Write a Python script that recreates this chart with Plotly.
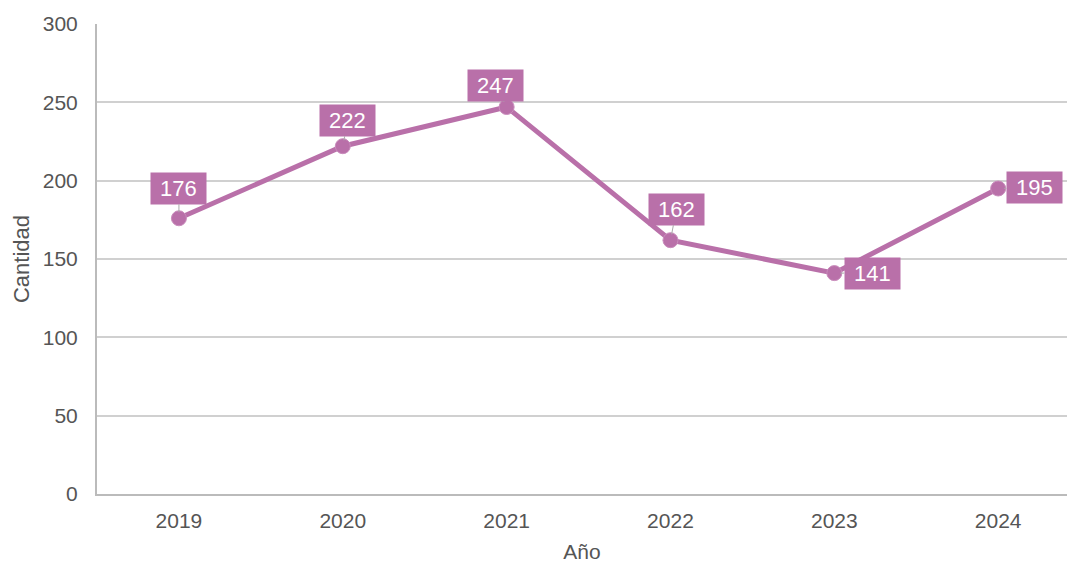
import plotly.graph_objects as go

years = ["2019", "2020", "2021", "2022", "2023", "2024"]
values = [176, 222, 247, 162, 141, 195]
label_dx = [0, 5, -11, 6, 38, 36]
label_dy = [-30, -26, -22, -31, 0, -1]

color = "#b970a9"
FONT = "Liberation Sans, Arial, sans-serif"
fig = go.Figure()
fig.add_trace(go.Scatter(
    x=years, y=values, mode="lines+markers",
    line=dict(color=color, width=5),
    marker=dict(size=15, color=color, line=dict(color="#c98cbc", width=1)),
    hoverinfo="x+y", showlegend=False,
))

for i, (v, dx, dy) in enumerate(zip(values, label_dx, label_dy)):
    fig.add_annotation(
        x=i, y=v, xref="x", yref="y", text="&nbsp;" + str(v) + "&nbsp;",
        showarrow=True, ax=dx, ay=dy, arrowhead=0, arrowwidth=1,
        arrowcolor="#aaaaaa", standoff=6,
        bgcolor=color, borderpad=3,
        font=dict(color="white", size=22, family=FONT),
    )

fig.update_layout(
    width=1067, height=563,
    margin=dict(l=97, r=0, t=24, b=69),
    paper_bgcolor="white", plot_bgcolor="white",
    font=dict(family=FONT, color="#555555", size=21),
    xaxis=dict(
        type="category", range=[-0.5, 5.42], automargin=False,
        showgrid=False, showline=True, linecolor="#bbbbbb", linewidth=2,
        ticks="", ticklabelstandoff=7, tickfont=dict(size=21, color="#555555"),
        title=dict(text="Año", font=dict(size=21, color="#555555"), standoff=13),
    ),
    yaxis=dict(
        range=[0, 300], dtick=50, automargin=False,
        showgrid=True, gridcolor="#d0d0d0", gridwidth=1.5,
        showline=True, linecolor="#bbbbbb", linewidth=2,
        zeroline=False, ticks="", ticklabelstandoff=13,
        tickfont=dict(size=21, color="#555555"),
        title=dict(text="Cantidad", font=dict(size=22, color="#555555"), standoff=7),
    ),
)

fig.write_html(
    "out.html",
    config={"displayModeBar": False},
    post_script="document.body.style.margin='0';document.body.style.overflow='hidden';",
)
